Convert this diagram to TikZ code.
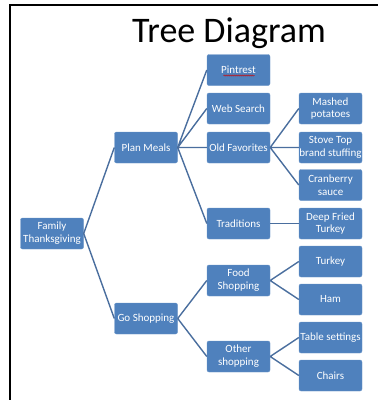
\documentclass[tikz,border=0pt]{standalone}
\usepackage{fontspec}
\setmainfont{Carlito}
\usetikzlibrary{decorations.pathmorphing}
\definecolor{boxblue}{HTML}{4F81BD}
\definecolor{lineblue}{HTML}{4A6E9E}
\begin{document}
\begin{tikzpicture}[x=1pt,y=-1pt,
	box/.style={fill=boxblue,draw=boxblue!85!white,rounded corners=2pt,minimum width=63pt,minimum height=31pt,
		inner sep=0pt,align=center,text=white,font={\fontsize{11}{12.8}\selectfont}},
	branch/.style={draw=lineblue,line width=1.4pt}]
		%%Khung va tieu de
		\def \cA{52}
		\def \cB{146}
		\def \cC{238.5}
		\def \cD{330.5}
		\useasboundingbox (0,0) rectangle (378,400);
		\draw[line width=1.8pt] (10,400)--(10,5)--(378,5);
		\node[anchor=base,font={\fontsize{36}{40}\selectfont}] (title) at (229,42) {Tree Diagram};
		%%Cac hop
		\node[box] (fam) at (\cA,233.5) {Family\\Thanksgiving};
		\node[box] (plan) at (\cB,147.5) {Plan Meals};
		\node[box] (shop) at (\cB,318.5) {Go Shopping};
		\node[box] (pint) at (\cC,70) {Pintrest};
		\node[box] (web) at (\cC,108.5) {Web Search};
		\node[box] (old) at (\cC,147.5) {Old Favorites};
		\node[box] (trad) at (\cC,223.5) {Traditions};
		\node[box] (food) at (\cC,280.5) {Food\\Shopping};
		\node[box] (other) at (\cC,356.5) {Other\\shopping};
		\node[box] (mash) at (\cD,108.5) {Mashed\\potatoes};
		\node[box] (stove) at (\cD,147.5) {Stove Top\\brand stuffing};
		\node[box] (cran) at (\cD,185) {Cranberry\\sauce};
		\node[box] (deep) at (\cD,223.5) {Deep Fried\\Turkey};
		\node[box] (turk) at (\cD,261.5) {Turkey};
		\node[box] (ham) at (\cD,299.5) {Ham};
		\node[box] (table) at (\cD,337.5) {Table settings};
		\node[box] (chairs) at (\cD,375.5) {Chairs};
		%%Gach do duoi chu
		\draw[red!80!black,line width=0.5pt,decorate,decoration={snake,amplitude=0.6pt,segment length=2pt}]
		([xshift=-15pt,yshift=-5.5pt]pint.center)--([xshift=16pt,yshift=-5.5pt]pint.center);
		%%Cac nhanh
		\draw[branch] (fam.east)--(plan.west) (fam.east)--(shop.west);
		\draw[branch] (plan.east)--(pint.west) (plan.east)--(web.west)
		(plan.east)--(old.west) (plan.east)--(trad.west);
		\draw[branch] (shop.east)--(food.west) (shop.east)--(other.west);
		\draw[branch] (old.east)--(mash.west) (old.east)--(stove.west) (old.east)--(cran.west);
		\draw[branch] (trad.east)--(deep.west);
		\draw[branch] (food.east)--(turk.west) (food.east)--(ham.west);
		\draw[branch] (other.east)--(table.west) (other.east)--(chairs.west);
	\end{tikzpicture}
\end{document}
